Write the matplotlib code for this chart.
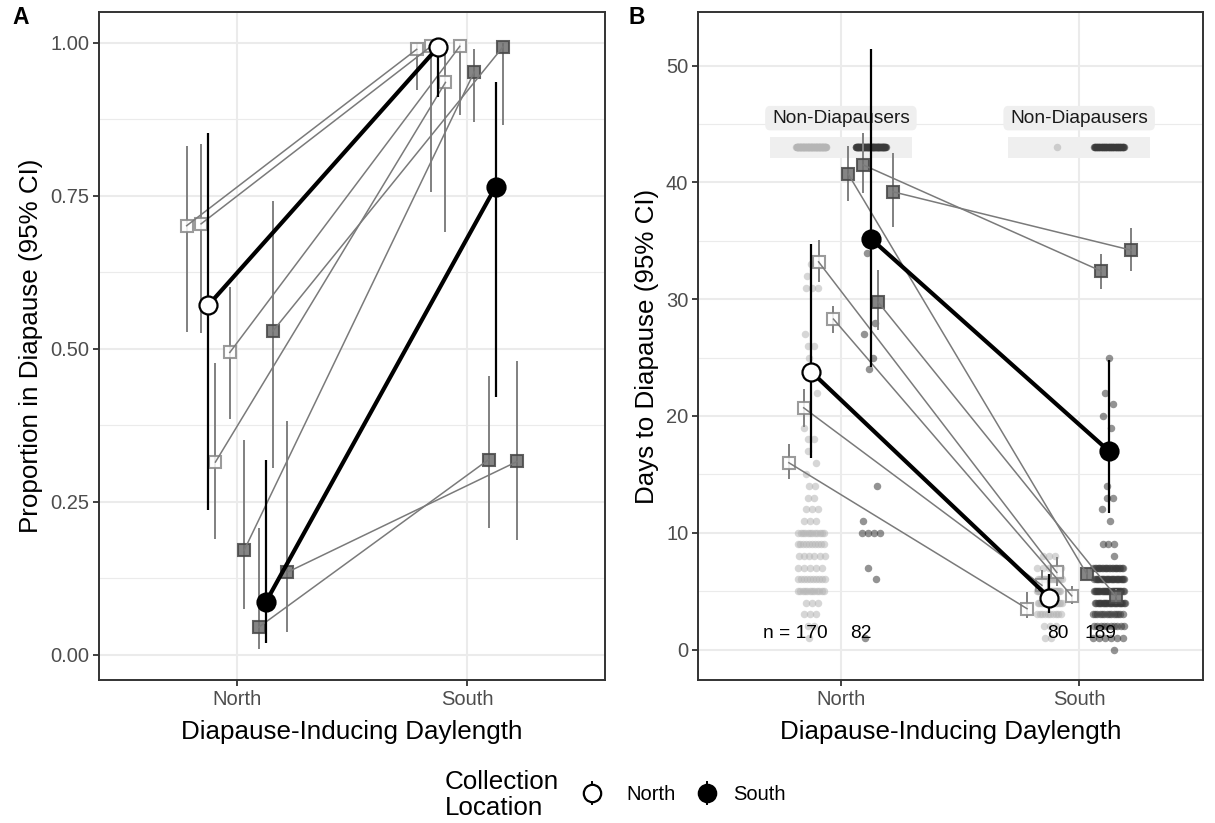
import matplotlib
matplotlib.use('Agg')
import matplotlib.pyplot as plt
from matplotlib.lines import Line2D
from matplotlib.patches import FancyBboxPatch, Rectangle
import numpy as np

plt.rcParams['font.family'] = ['Liberation Sans', 'DejaVu Sans']

# ---------------- data ----------------
categories = ['North', 'South']          # diapause-inducing daylength
origins = ['North', 'South']             # collection location
pop_origin = ['North', 'North', 'North', 'North', 'South', 'South', 'South', 'South']

# Panel A: proportion in diapause per population (ordered by dodge slot)
propA_north = [0.701, 0.704, 0.315, 0.494, 0.171, 0.045, 0.529, 0.135]
propA_north_lo = [0.528, 0.526, 0.189, 0.386, 0.075, 0.009, 0.305, 0.038]
propA_north_hi = [0.831, 0.835, 0.476, 0.601, 0.351, 0.208, 0.741, 0.382]
propA_south = [0.989, 0.994, 0.935, 0.994, 0.952, 0.319, 0.993, 0.316]
propA_south_lo = [0.922, 0.756, 0.691, 0.882, 0.871, 0.207, 0.865, 0.188]
propA_south_hi = [1.000, 1.000, 0.990, 1.000, 0.990, 0.455, 1.000, 0.480]

# Panel A: model means per collection location, at [North, South] daylength
meanA_N = [0.571, 0.993]
meanA_N_lo = [0.237, 0.911]
meanA_N_hi = [0.852, 1.000]
meanA_S = [0.086, 0.765]
meanA_S_lo = [0.020, 0.422]
meanA_S_hi = [0.318, 0.936]

# Panel B: days to diapause per population
daysB_north = [16.0, 20.7, 33.2, 28.3, 40.7, 41.5, 29.75, 39.2]
daysB_north_lo = [14.6, 19.1, 31.5, 27.1, 38.4, 39.1, 27.4, 36.2]
daysB_north_hi = [17.6, 22.3, 35.1, 29.4, 43.1, 44.2, 32.5, 42.5]
daysB_south = [3.5, 5.5, 6.6, 4.6, 6.5, 32.4, 4.5, 34.2]
daysB_south_lo = [2.7, 4.3, 5.4, 3.9, 6.0, 30.9, 3.9, 32.4]
daysB_south_hi = [4.95, 6.8, 7.95, 5.4, 7.0, 33.9, 5.2, 36.1]

meanB_N = [23.8, 4.44]
meanB_N_lo = [16.4, 3.1]
meanB_N_hi = [34.7, 6.5]
meanB_S = [35.2, 17.0]
meanB_S_lo = [24.2, 11.7]
meanB_S_hi = [51.4, 24.8]

# Panel B raw individuals (days : count)
nn_days = [33, 32, 31, 27, 26, 25, 22, 19, 18, 17, 16, 15, 14, 13, 12, 11, 10, 9, 8, 7, 6, 5, 4, 3, 2, 1]
nn_counts = [1, 1, 3, 1, 2, 1, 1, 1, 2, 1, 1, 1, 2, 2, 3, 3, 12, 10, 6, 5, 10, 12, 3, 3, 2, 1]
sn_days = [35, 34, 28, 27, 25, 24, 14, 11, 10, 7, 6, 1]
sn_counts = [1, 1, 1, 1, 1, 1, 1, 1, 4, 1, 1, 1]
ns_days = [8, 7, 6, 5, 4, 3, 2, 1]
ns_counts = [3, 5, 14, 24, 18, 10, 3, 2]
ss_days = [25, 22, 21, 20, 19, 14, 13, 12, 11, 9, 8, 7, 6, 5, 4, 3, 2, 1, 0]
ss_counts = [1, 1, 1, 1, 1, 1, 2, 1, 1, 3, 1, 22, 25, 28, 25, 14, 10, 6, 1]
nondiap_counts = [80, 67, 1, 44]      # NN, SN, NS, SS
nondiap_level = 43
n_labels = ['n = 170', '82', '80', '189']

# ---------------- styling ----------------
GRID = '#EBEBEB'
BORDER = '#333333'
TICKC = '#4D4D4D'
TITLE_FS = 18.7
TICK_FS = 14.5
PX = 72 / 100.0   # points per pixel


def dodge(n, width=0.5):
    return (np.arange(n) + 0.5) / n * width - width / 2


pop_off = dodge(8)
mean_off = dodge(2)

fig = plt.figure(figsize=(12.15, 8.23), dpi=100)
W, H = 1215, 823
axA = fig.add_axes([99 / W, 1 - 680 / H, (605 - 99) / W, (680 - 12) / H])
axB = fig.add_axes([698 / W, 1 - 680 / H, (1203 - 698) / W, (680 - 12) / H])


def style(ax, yticks, yminor, ylabels, ylim, xlim):
    ax.set_xlim(*xlim)
    ax.set_ylim(*ylim)
    ax.set_xticks([1, 2])
    ax.set_xticklabels(categories)
    ax.set_yticks(yticks)
    ax.set_yticklabels(ylabels)
    ax.set_yticks(yminor, minor=True)
    ax.grid(True, which='major', color=GRID, lw=1.5, zorder=0)
    ax.grid(True, which='minor', axis='y', color=GRID, lw=0.8, zorder=0)
    ax.set_axisbelow(True)
    for s in ax.spines.values():
        s.set_color(BORDER)
        s.set_linewidth(1.4)
    ax.tick_params(which='major', length=4, width=1.3, color=BORDER,
                   labelsize=TICK_FS, labelcolor=TICKC, pad=3)
    ax.tick_params(which='minor', length=0)
    ax.set_xlabel('Diapause-Inducing Daylength', fontsize=TITLE_FS, labelpad=8)


style(axA, [0, 0.25, 0.5, 0.75, 1.0], [0.125, 0.375, 0.625, 0.875],
      ['0.00', '0.25', '0.50', '0.75', '1.00'], (-0.041, 1.05), (0.4, 2.6))
axA.set_ylabel('Proportion in Diapause (95% CI)', fontsize=TITLE_FS, labelpad=5)
style(axB, [0, 10, 20, 30, 40, 50], [5, 15, 25, 35, 45],
      ['0', '10', '20', '30', '40', '50'], (-2.61, 54.6), (0.4, 2.52))
axB.set_ylabel('Days to Diapause (95% CI)', fontsize=TITLE_FS, labelpad=5)

OPEN_FACE, OPEN_EDGE = 'white', '#8A8A8A'
DARK_FACE, DARK_EDGE = '#707070', '#474747'
POPLINE = '#7A7A7A'
SQ_MS = 12.5 * PX


def draw_pops(ax, vn, vnlo, vnhi, vs, vslo, vshi):
    for i in range(8):
        xn = 1 + pop_off[i]
        xs = 2 + pop_off[i]
        ax.plot([xn, xn], [vnlo[i], vnhi[i]], color='#808080', lw=1.4, zorder=3,
                solid_capstyle='butt')
        ax.plot([xs, xs], [vslo[i], vshi[i]], color='#808080', lw=1.4, zorder=3,
                solid_capstyle='butt')
        if pop_origin[i] == 'North':
            fc, ec = OPEN_FACE, OPEN_EDGE
        else:
            fc, ec = DARK_FACE, DARK_EDGE
        ax.plot([xn, xs], [vn[i], vs[i]], ls='none', marker='s', ms=SQ_MS,
                mfc=fc, mec=ec, mew=1.5, alpha=0.85, zorder=4)
        ax.plot([xn, xs], [vn[i], vs[i]], color=POPLINE, lw=1.1, zorder=5)


def draw_means(ax, mN, mNlo, mNhi, mS, mSlo, mShi):
    for o, (m, lo, hi) in enumerate([(mN, mNlo, mNhi), (mS, mSlo, mShi)]):
        xs = [1 + mean_off[o], 2 + mean_off[o]]
        for j in range(2):
            ax.plot([xs[j], xs[j]], [lo[j], hi[j]], color='black', lw=1.6, zorder=6,
                    solid_capstyle='butt')
        ax.plot(xs, m, color='black', lw=3.0, zorder=7)
        fc = 'white' if origins[o] == 'North' else 'black'
        ax.plot(xs, m, ls='none', marker='o', ms=18 * PX, mfc=fc, mec='black',
                mew=1.6, zorder=8)


draw_pops(axA, propA_north, propA_north_lo, propA_north_hi,
          propA_south, propA_south_lo, propA_south_hi)
draw_means(axA, meanA_N, meanA_N_lo, meanA_N_hi, meanA_S, meanA_S_lo, meanA_S_hi)

# ---- panel B raw points ----
LIGHT, DARK = '#B5B5B5', '#3A3A3A'


def vdc(i, base=2):
    v, denom = 0.0, 1.0
    while i:
        i, r = divmod(i, base)
        denom *= base
        v += r / denom
    return v


def swarm(ax, cx, days, counts, color, sp=0.025, maxw=0.11):
    xs, ys = [], []
    for row, (d, k) in enumerate(zip(days, counts)):
        if k > 1:
            w = min((k - 1) * sp, maxw)
            offs = np.linspace(-w / 2, w / 2, k) + (vdc(row + 1) - 0.5) * 0.01
        else:
            offs = np.array([(vdc(row + 1) - 0.5) * 0.07])
        xs.extend(cx + offs)
        ys.extend([d] * k)
    ax.scatter(xs, ys, s=(7.5 * PX) ** 2, color=color, alpha=0.55, lw=0, zorder=2)


group_x = [1 + mean_off[0], 1 + mean_off[1], 2 + mean_off[0], 2 + mean_off[1]]
group_col = [LIGHT, DARK, LIGHT, DARK]
swarm(axB, group_x[0], nn_days, nn_counts, LIGHT)
swarm(axB, group_x[1], sn_days, sn_counts, DARK)
swarm(axB, group_x[2], ns_days, ns_counts, LIGHT, maxw=0.10)
swarm(axB, group_x[3], ss_days, ss_counts, DARK, maxw=0.125)

# non-diapausers
for cx in (1, 2):
    axB.add_patch(Rectangle((cx - 0.298, 42.09), 0.596, 1.8, facecolor='#EFEFEF',
                            edgecolor='none', zorder=1))
    axB.add_patch(FancyBboxPatch((cx - 0.318, 44.46), 0.636, 2.1,
                                 boxstyle='round,pad=0,rounding_size=0.02',
                                 facecolor='#EFEFEF', edgecolor='none', zorder=1,
                                 mutation_aspect=1 / 0.04))
    axB.text(cx, 45.52, 'Non-Diapausers', ha='center', va='center',
             fontsize=13.8, color='#1A1A1A', zorder=2)
for g in range(4):
    k = nondiap_counts[g]
    if k > 1:
        xs = group_x[g] + np.linspace(-0.063, 0.063, k)
    else:
        xs = np.array([group_x[g] + 0.03])
    axB.scatter(xs, [nondiap_level] * k, s=(7.5 * PX) ** 2, color=group_col[g],
                alpha=0.6, lw=0, zorder=2)

draw_pops(axB, daysB_north, daysB_north_lo, daysB_north_hi,
          daysB_south, daysB_south_lo, daysB_south_hi)
draw_means(axB, meanB_N, meanB_N_lo, meanB_N_hi, meanB_S, meanB_S_lo, meanB_S_hi)

n_x = [0.807, 1.084, 1.912, 2.088]
for t, x in zip(n_labels, n_x):
    axB.text(x, 1.4, t, ha='center', va='center', fontsize=13.8, color='black', zorder=10)

# panel tags
fig.text(12 / W, 1 - 18 / H, 'A', fontsize=16.5, fontweight='bold', va='center', ha='left')
fig.text(628 / W, 1 - 18 / H, 'B', fontsize=16.5, fontweight='bold', va='center', ha='left')

# legend (drawn manually)
fig.text(445 / W, 1 - 795 / H, 'Collection\nLocation', fontsize=TITLE_FS, ha='left',
         va='center', linespacing=1.08)
for xk, fc, lab, xl in [(591.7, 'white', 'North', 626.7), (706.7, 'black', 'South', 733.3)]:
    fig.add_artist(Line2D([xk / W, xk / W], [1 - 782 / H, 1 - 804 / H], color='black',
                          lw=1.4, transform=fig.transFigure))
    fig.add_artist(Line2D([xk / W], [1 - 793 / H], marker='o', ms=12.5,
                          mfc=fc, mec='black', mew=1.6, ls='none',
                          transform=fig.transFigure))
    fig.text(xl / W, 1 - 795 / H, lab, fontsize=TICK_FS, ha='left', va='center')

fig.savefig('out.png', dpi=100)
